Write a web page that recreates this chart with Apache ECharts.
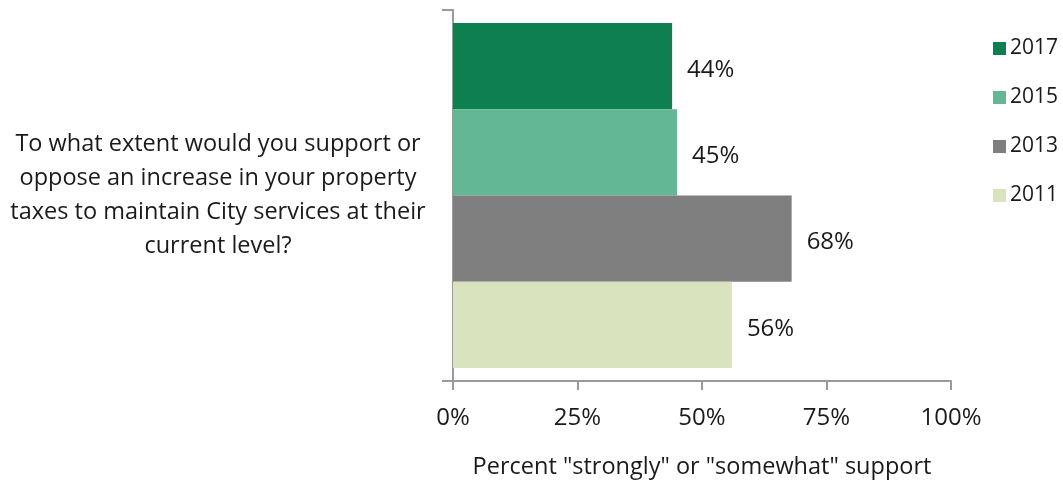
<!DOCTYPE html>
<html>
<head>
<meta charset="utf-8">
<style>
  html, body { margin: 0; padding: 0; background: #ffffff; }
  #chart { width: 1063px; height: 481px; }
</style>
<script src="https://cdn.jsdelivr.net/npm/echarts@6/dist/echarts.min.js"></script>
</head>
<body>
<div id="chart"></div>
<script>
// Survey question, split into the lines it is shown on
const questionLines = [
  'To what extent would you support or',
  'oppose an increase in your property',
  'taxes to maintain City services at their',
  'current level?'
];
const categories = [questionLines.join('\n')];

// Survey years (top bar first) and percent support for each
const years = ['2017', '2015', '2013', '2011'];
const support2017 = [44];
const support2015 = [45];
const support2013 = [68];
const support2011 = [56];
const yearColors = ['#0e7f4f', '#63b795', '#7f7f7f', '#d9e4bf'];

const xTicks = [0, 25, 50, 75, 100];
const xAxisTitle = 'Percent "strongly" or "somewhat" support';

const valuesByYear = [support2017, support2015, support2013, support2011];
const FONT = '"Open Sans", Lato, sans-serif';
const TEXT = '#1a1a1a';
const AXIS = '#9a9a9a';

const chart = echarts.init(document.getElementById('chart'));
chart.setOption({
  animation: false,
  textStyle: { fontFamily: FONT },
  grid: {
    left: 453, right: 112, top: 10, bottom: 100,
    containLabel: false,
    outerBoundsMode: 'none'
  },
  legend: {
    orient: 'vertical',
    left: 988,
    top: 33,
    data: years,
    itemWidth: 13,
    itemHeight: 13,
    itemGap: 28,
    icon: 'rect',
    textStyle: { fontSize: 21, color: TEXT, fontFamily: FONT, padding: [0, 0, 0, -1] }
  },
  xAxis: {
    type: 'value',
    min: xTicks[0],
    max: xTicks[xTicks.length - 1],
    interval: 25,
    name: xAxisTitle,
    nameLocation: 'middle',
    nameGap: 74,
    nameTextStyle: { fontSize: 23.5, color: TEXT, fontFamily: FONT },
    axisLine: { show: true, lineStyle: { color: AXIS, width: 2 } },
    axisTick: { show: true, length: 9, lineStyle: { color: AXIS, width: 2 } },
    axisLabel: { formatter: '{value}%', fontSize: 24, color: TEXT, margin: 25, fontFamily: FONT },
    splitLine: { show: false }
  },
  yAxis: {
    type: 'category',
    data: categories,
    axisLine: { show: true, lineStyle: { color: AXIS, width: 2 } },
    axisTick: { show: true, length: 11, lineStyle: { color: AXIS, width: 2 } },
    axisLabel: {
      align: 'center',
      margin: 235,
      fontSize: 23.5,
      lineHeight: 34,
      padding: [26, 0, 0, 0],
      color: TEXT,
      fontFamily: FONT
    }
  },
  series: years.map((y, i) => ({
    name: y,
    type: 'bar',
    data: valuesByYear[i],
    barGap: '0%',
    barCategoryGap: '7%',
    itemStyle: { color: yearColors[i] },
    label: {
      show: true,
      position: 'right',
      distance: 15,
      offset: [0, 4],
      formatter: '{c}%',
      fontSize: 24,
      color: TEXT,
      fontFamily: FONT
    }
  }))
});
</script>
</body>
</html>
